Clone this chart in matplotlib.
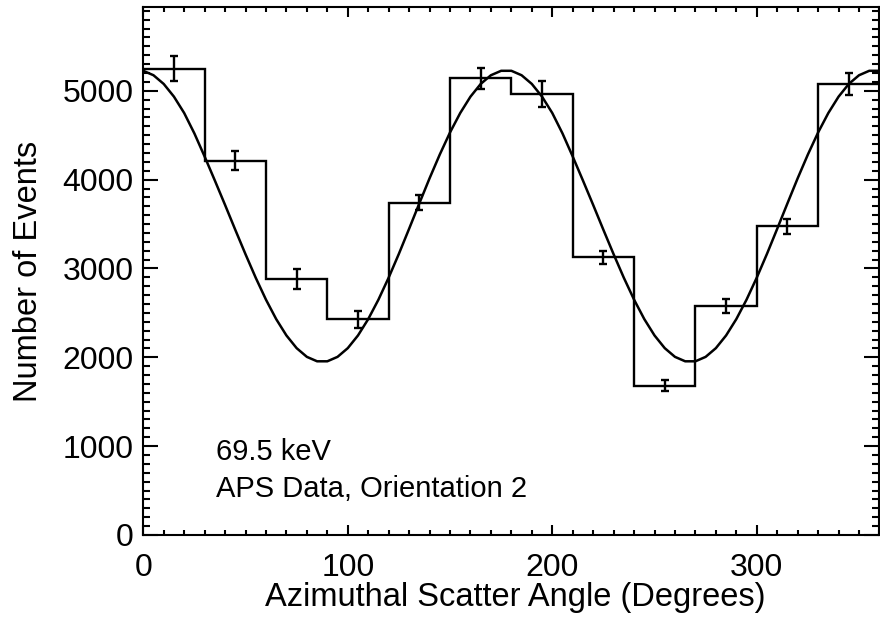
import matplotlib
matplotlib.use('Agg')
import matplotlib.pyplot as plt
import numpy as np
from matplotlib.ticker import MultipleLocator

plt.rcParams['font.family'] = ['Liberation Sans', 'DejaVu Sans']

# histogram of azimuthal scatter angles (30 degree bins)
bin_edges = [0, 30, 60, 90, 120, 150, 180, 210, 240, 270, 300, 330, 360]
bin_centers = [15, 45, 75, 105, 135, 165, 195, 225, 255, 285, 315, 345]
counts = [5250, 4215, 2880, 2426, 3742, 5140, 4965, 3127, 1680, 2580, 3476, 5073]
count_err = [143, 103, 109, 94, 83, 120, 144, 75, 60, 79, 84, 125]

curve_angle = list(range(0, 361, 5))
curve_half = [5225, 5175, 5077, 4934, 4750, 4520, 4260, 3990, 3715, 3435, 3160, 2895,
              2649, 2430, 2246, 2103, 2005, 1955, 1955, 2005, 2103, 2246, 2430, 2649,
              2897, 3165, 3447, 3733, 4015, 4283, 4531, 4750, 4934, 5077, 5175, 5225]
curve_counts = curve_half + curve_half + [5225]

fig = plt.figure(figsize=(8.8, 6.22), dpi=100)
ax = fig.add_axes([0.1628, 0.1399, 0.8366, 0.8484])

ax.stairs(counts, bin_edges, color='black', linewidth=1.7, baseline=None)
ax.errorbar(bin_centers, counts, yerr=count_err, fmt='none', ecolor='black',
            elinewidth=1.7, capsize=2.8, capthick=1.7)
ax.plot(curve_angle, curve_counts, color='black', linewidth=1.8)

ax.set_xlim(0, 360)
ax.set_ylim(0, 5940)

ax.xaxis.set_major_locator(MultipleLocator(100))
ax.xaxis.set_minor_locator(MultipleLocator(10))
ax.yaxis.set_major_locator(MultipleLocator(1000))
ax.yaxis.set_minor_locator(MultipleLocator(100))

ax.tick_params(which='both', direction='in', top=True, right=True, width=1.5, labelsize=23)
ax.tick_params(axis='x', which='major', length=7.5, pad=13)
ax.tick_params(axis='x', which='minor', length=3.8)
ax.tick_params(axis='y', which='major', length=11, pad=7)
ax.tick_params(axis='y', which='minor', length=5.3)
for s in ax.spines.values():
    s.set_linewidth(1.5)

ax.set_xlabel('Azimuthal Scatter Angle (Degrees)', fontsize=23.5)
ax.set_ylabel('Number of Events', fontsize=23.5)
ax.xaxis.set_label_coords(0.505, -0.09)
ax.yaxis.set_label_coords(-0.135, 0.5)

ax.text(35.5, 844, '69.5 keV', fontsize=21)
ax.text(35.5, 424, 'APS Data, Orientation 2', fontsize=21)

fig.savefig('out.png', dpi=100)
